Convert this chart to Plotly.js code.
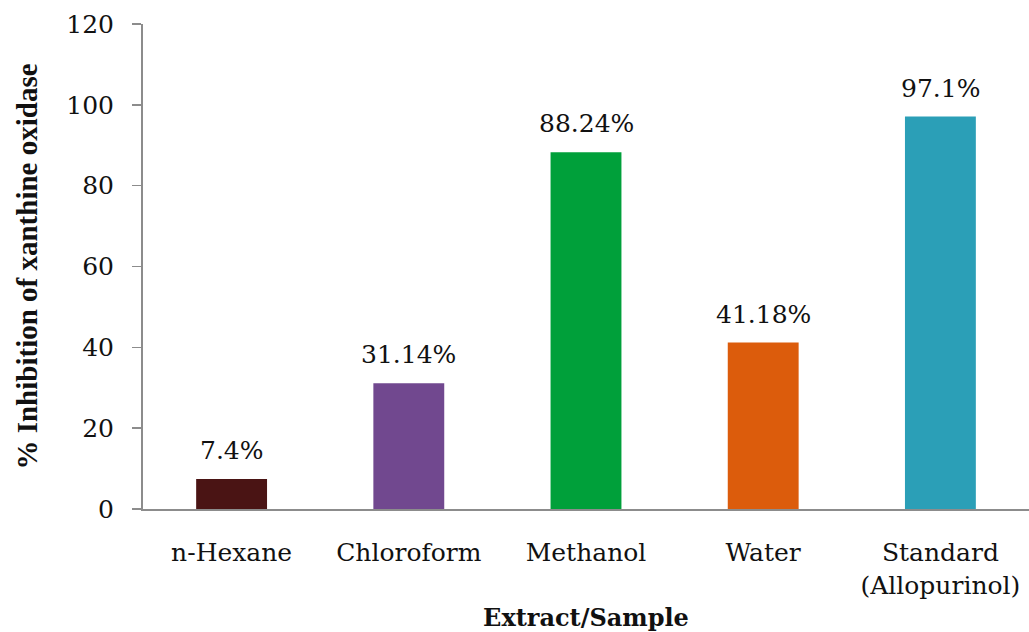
<!DOCTYPE html>
<html>
<head>
<meta charset="utf-8">
<script src="https://cdn.plot.ly/plotly-3.0.1.min.js"></script>
<style>html,body{margin:0;padding:0;background:#fff;}#chart{width:1029px;height:632px;}</style>
</head>
<body>
<div id="chart"></div>
<script>
const categories = ["n-Hexane", "Chloroform", "Methanol", "Water", "Standard<br>(Allopurinol)"];
const inhibition = [7.4, 31.14, 88.24, 41.18, 97.1];
const valueLabels = ["7.4%", "31.14%", "88.24%", "41.18%", "97.1%"];
const barColors = ["#4a1414", "#71488f", "#00a03a", "#dc5c0c", "#2b9fb7"];
const yTicks = [0, 20, 40, 60, 80, 100, 120];

const serif = "DejaVu Serif, Liberation Serif, serif";

const trace = {
  type: "bar",
  x: categories,
  y: inhibition,
  marker: { color: barColors, line: { width: 0 } },
  hoverinfo: "skip"
};

const annotations = categories.map((c, i) => ({
  x: c, y: inhibition[i], text: valueLabels[i],
  xref: "x", yref: "y", showarrow: false,
  yanchor: "bottom", yshift: 12,
  font: { family: serif, size: 25, color: "#111" }
}));

const layout = {
  width: 1029, height: 632,
  margin: { l: 143, r: 0, t: 24, b: 123 },
  paper_bgcolor: "#fff", plot_bgcolor: "#fff",
  showlegend: false,
  bargap: 0.6,
  font: { family: serif, color: "#111" },
  xaxis: {
    showline: true, linecolor: "#8c8c8c", linewidth: 2,
    ticks: "", showgrid: false, zeroline: false,
    tickfont: { family: serif, size: 25, color: "#111" },
    ticklabelstandoff: 20,
    title: { text: "Extract/Sample", standoff: 12,
      font: { family: "DejaVu Serif, serif", size: 24, color: "#111", weight: "bold" } }
  },
  yaxis: {
    range: [0, 120], tickvals: yTicks,
    showline: true, linecolor: "#8c8c8c", linewidth: 2,
    ticks: "outside", ticklen: 9, tickwidth: 1.5, tickcolor: "#8c8c8c",
    showgrid: false, zeroline: false,
    tickfont: { family: serif, size: 25, color: "#111" },
    ticklabelstandoff: 13,
    title: { text: "% Inhibition of xanthine oxidase", standoff: 20,
      font: { family: "Liberation Serif, serif", size: 29, color: "#111", weight: "bold" } }
  },
  annotations: annotations
};

Plotly.newPlot("chart", [trace], layout, { displayModeBar: false, staticPlot: true });
</script>
</body>
</html>
